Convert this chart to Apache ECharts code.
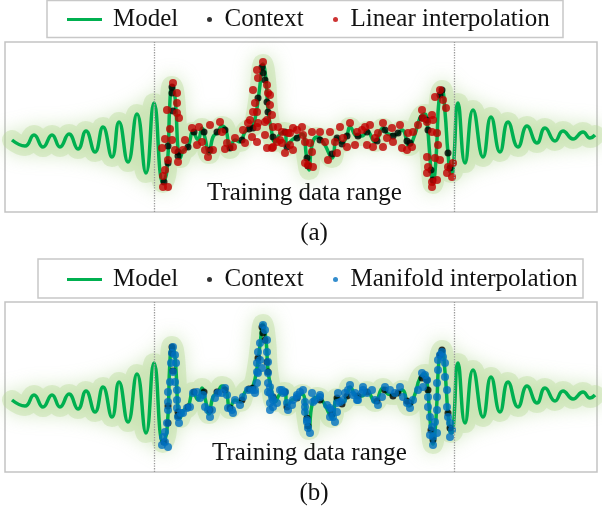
<!DOCTYPE html>
<html>
<head>
<meta charset="utf-8">
<script src="https://cdn.jsdelivr.net/npm/echarts@6/dist/echarts.min.js"></script>
<style>
html,body{margin:0;padding:0;background:#fff;}
#chart{width:602px;height:510px;}
</style>
</head>
<body>
<div id="chart"></div>
<script>
// ---- data (t = time step, v = signal value) ----
const trainingRange = [0, 300];
const panelLabels = ['(a)', '(b)'];
const rangeLabel = 'Training data range';
const interpNames = ['Linear interpolation', 'Manifold interpolation'];

const modelCurve = [
  [-142,0],[-129,-6],[-120,5],[-111,-7],[-102,5],[-94,-7],[-85,6],[-76,-9],[-68,9],[-59,-12],
  [-51,13],[-42,-17],[-35,18],[-26,-22],[-17,26],[-8,-33],[0,37],[9,-43],
  [13,-30],[16,40],[18,54],[20,50],[22,30],[24,-10],[26,-18],[29,-11],[34,-7],[39,8],[44,0],
  [48,12],[51,2],[55,-14],[59,3],[64,8],[68,14],[72,10],[76,-9],[81,0],[86,-2],[91,8],[96,12],
  [99,14],[103,32],[106,55],[109,76],[112,60],[114,30],[117,12],[121,-2],[126,6],[131,8],[133,-6],
  [138,0],[143,3],[148,6],[153,-20],[155,-30],[158,-5],[163,3],[166,2],[171,-5],[178,-18],[183,2],
  [188,-3],[193,5],[196,13],[203,4],[208,4],[213,9],[221,-2],[229,12],[234,6],[241,5],[248,10],
  [255,-6],[261,6],[266,22],[271,26],[273,18],[275,-5],[277,-30],[279,-44],[281,-32],[283,0],
  [285,40],[288,50],[291,28],[294,-13],[297,-33],[299,-31],
  [304,37],[311,-23],[319,30],[329,-17],[337,23],[346,-12],[354,18],[364,-7],[373,14],[383,-3],
  [391,12],[401,-1],[409,9],[419,1],[429,8],[436,2],[441,5]
];

const contextPoints = [
  [10,-42],[14,-23],[14,-6],[18,47],[18,53],[19,29],[24,-12],[24,-16],[34,-7],[40,8],[50,8],
  [56,-10],[63,8],[71,10],[76,-8],[88,0],[95,11],[99,12],[104,42],[108,73],[109,67],[111,60],
  [113,38],[114,28],[119,3],[131,8],[133,-7],[143,2],[153,-18],[154,-26],[166,0],[178,-14],
  [183,2],[188,-4],[193,4],[204,4],[213,8],[223,-1],[231,10],[239,4],[244,7],[253,-1],[256,-3],
  [268,22],[273,20],[274,10],[277,-30],[279,-40],[286,45],[288,50],[294,-13],[296,-28]
];

const linearInterp = [
  [9,-47],[14,-47],[9,-36],[11,-30],[8,-8],[11,1],[14,-20],[13,30],[16,11],[19,57],[23,47],
  [23,37],[23,27],[25,22],[18,0],[21,-10],[24,-22],[29,-10],[31,0],[38,12],[43,-5],[45,13],
  [48,-2],[51,-10],[54,-17],[59,-10],[56,15],[66,18],[68,8],[73,-3],[71,-9],[79,-7],[81,2],
  [89,10],[94,17],[91,-3],[98,3],[103,13],[109,78],[103,70],[104,62],[99,50],[101,37],[103,28],
  [99,28],[96,20],[113,55],[114,47],[116,35],[118,25],[113,20],[119,13],[111,5],[113,-8],[118,-8],
  [123,-2],[128,8],[126,0],[131,-13],[134,7],[139,12],[116,45],[111,18],[104,17],[103,-2],
  [119,-7],[124,13],[128,-3],[136,7],[136,-5],[139,-10],[143,10],[148,13],[149,5],[151,-2],
  [156,-3],[158,-12],[151,-23],[154,-25],[159,-27],[158,8],[166,8],[171,-2],[174,-20],[176,8],
  [181,-2],[183,-13],[186,13],[189,2],[193,-7],[196,17],[201,-5],[203,8],[208,10],[211,13],
  [216,15],[213,-5],[219,-7],[221,2],[224,7],[229,17],[229,-7],[233,2],[238,12],[239,-2],
  [246,15],[248,-8],[253,-10],[254,7],[258,-7],[259,8],[264,15],[268,30],[269,22],[273,18],
  [278,25],[279,20],[278,8],[281,43],[286,50],[289,40],[292,32],[283,7],[284,-5],[286,-20],
  [281,-18],[273,-17],[274,-27],[273,-33],[278,-42],[283,-40],[278,-47],[294,-27],[293,-33],
  [298,-37],[299,-23]
];

const manifoldInterp = [
  [8,-45],[11,-42],[14,-47],[9,-37],[11,-32],[13,-23],[14,-10],[14,-2],[14,8],[16,18],[17,37],
  [18,47],[19,53],[21,45],[22,37],[19,28],[21,18],[23,10],[23,0],[23,-8],[24,-17],[25,-23],
  [27,-13],[29,-13],[33,-8],[36,-7],[39,7],[43,8],[46,2],[49,5],[51,-7],[54,-10],[56,-17],
  [58,-10],[61,2],[64,7],[68,7],[71,12],[73,5],[74,-8],[78,-10],[79,-13],[81,0],[86,-5],[89,3],
  [94,10],[98,10],[101,7],[103,17],[101,10],[103,28],[103,37],[104,48],[106,57],[109,75],
  [111,70],[113,60],[113,48],[114,38],[114,27],[114,17],[116,7],[119,0],[123,-3],[128,10],
  [131,8],[133,-3],[138,-5],[143,3],[106,40],[108,32],[104,27],[116,13],[114,8],[118,3],
  [116,-3],[119,-7],[116,-10],[126,10],[129,7],[134,-10],[139,0],[143,5],[146,8],[149,10],
  [151,-2],[151,-12],[153,-22],[154,-28],[156,-33],[158,7],[159,-2],[166,5],[173,-5],[176,-8],
  [179,-17],[181,-22],[183,-12],[186,-2],[191,7],[196,15],[199,5],[203,0],[208,7],[209,13],
  [151,-7],[153,-20],[161,0],[166,3],[176,-17],[178,-10],[183,-3],[184,7],[189,0],[194,10],
  [201,7],[204,0],[209,10],[213,7],[218,10],[221,0],[224,-5],[228,3],[231,13],[236,10],[241,7],
  [246,13],[249,3],[253,-3],[256,-8],[259,0],[264,10],[268,27],[271,25],[269,13],[273,20],
  [274,3],[274,-7],[276,-17],[278,-27],[276,-35],[279,-37],[283,-33],[279,-45],[281,-22],
  [283,-10],[283,3],[283,17],[284,30],[284,40],[286,45],[288,48],[289,43],[291,37],[291,23],
  [293,10],[293,-7],[294,-17],[296,-23],[298,-30],[296,-37]
];

// ---- chart ----
const chart = echarts.init(document.getElementById('chart'), null, {renderer: 'canvas'});
const FONT = "'Liberation Serif','Times New Roman',serif";
const GREEN = '#00b050';
const interpColors = ['#c00000', '#0070c0'];
const panelTop = [42, 302];

const grids = [], xAxes = [], yAxes = [], series = [], legends = [], graphics = [];

panelTop.forEach((top, i) => {
  grids.push({left: 5, top: top, width: 592, height: 170, show: true,
    borderColor: '#c3c3c3', borderWidth: 1.5, backgroundColor: 'transparent'});
  xAxes.push({type: 'value', gridIndex: i, min: -149, max: 443, show: false});
  yAxes.push({type: 'value', gridIndex: i, min: -72, max: 98, show: false});

  series.push({
    type: 'line', xAxisIndex: i, yAxisIndex: i, data: modelCurve, smooth: 0.5,
    symbol: 'none', silent: true, z: 1, legendHoverLink: false,
    lineStyle: {width: 20, color: 'rgba(180,215,145,0.36)', shadowBlur: 18,
      shadowColor: 'rgba(150,200,110,1)', cap: 'round', join: 'round'},
    markLine: {silent: true, symbol: 'none', label: {show: false},
      lineStyle: {type: 'dotted', color: '#9a9a9a', width: 1.3},
      data: trainingRange.map(x => ({xAxis: x}))}
  });
  series.push({
    name: 'Model', type: 'line', xAxisIndex: i, yAxisIndex: i, data: modelCurve, smooth: 0.5,
    symbol: 'none', z: 2, color: GREEN, itemStyle: {color: GREEN},
    lineStyle: {width: 3.5, color: GREEN, join: 'round'}
  });
  series.push({
    name: 'Context', type: 'scatter', xAxisIndex: i, yAxisIndex: i, data: contextPoints,
    symbolSize: 7, z: 3, itemStyle: {color: '#000'}
  });
  series.push({
    name: interpNames[i], type: 'scatter', xAxisIndex: i, yAxisIndex: i,
    data: i === 0 ? linearInterp : manifoldInterp,
    symbolSize: 8, z: 4, itemStyle: {color: interpColors[i]}
  });

  const lt = top - 35;
  const textStyle = {fontFamily: FONT, fontSize: 25, color: '#111'};
  legends.push({left: 67, top: lt, padding: 0, itemWidth: 35, itemHeight: 3,
    data: [{name: 'Model', icon: 'rect'}], textStyle: Object.assign({padding: [0,0,0,6]}, textStyle)});
  legends.push({left: 207, top: lt, padding: 0, itemWidth: 20, itemHeight: 5,
    data: [{name: 'Context', icon: 'circle'}], textStyle: textStyle});
  legends.push({left: 333, top: lt, padding: 0, itemWidth: 20, itemHeight: 5,
    data: [{name: interpNames[i], icon: 'circle'}], textStyle: textStyle});

  graphics.push({type: 'text', left: i === 0 ? 207 : 212, top: top + 139,
    style: {text: rangeLabel, font: '25px ' + FONT, fill: '#111'}});
  graphics.push({type: 'text', x: 314, y: top + 191,
    style: {text: panelLabels[i], font: '25px ' + FONT, fill: '#111',
      textAlign: 'center', textVerticalAlign: 'middle'}});
});

graphics.push({type: 'rect', shape: {x: 47, y: 0.5, width: 516, height: 37},
  style: {fill: 'none', stroke: '#c8c8c8', lineWidth: 1.5}});
graphics.push({type: 'rect', shape: {x: 38, y: 259, width: 545, height: 39},
  style: {fill: 'none', stroke: '#c8c8c8', lineWidth: 1.5}});

chart.setOption({
  animation: false,
  backgroundColor: '#fff',
  grid: grids, xAxis: xAxes, yAxis: yAxes,
  legend: legends,
  series: series,
  graphic: graphics
});
</script>
</body>
</html>
